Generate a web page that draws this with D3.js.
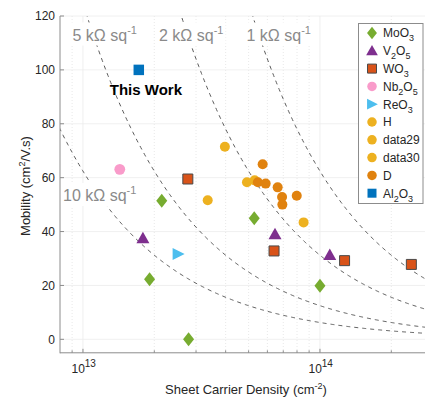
<!DOCTYPE html>
<html>
<head>
<meta charset="utf-8">
<script src="https://cdn.jsdelivr.net/npm/d3@7"></script>
<style>
  html, body { margin: 0; padding: 0; background: #fff; }
  svg { display: block; font-family: "Liberation Sans", Arial, Helvetica, sans-serif; }
</style>
</head>
<body>
<svg id="chart" width="425" height="401"></svg>
<script>
// Sheet carrier density (cm^-2) and mobility (cm^2/V.s) per material
const moO3N   = [2.15e13, 5.28e13, 1.91e13, 2.79e13, 1.0e14];
const moO3Mu  = [51.4, 44.9, 22.3, 0, 19.9];
const v2o5N   = [1.79e13, 6.46e13, 1.10e14];
const v2o5Mu  = [37.5, 39.0, 31.3];
const wo3N    = [2.77e13, 6.40e13, 1.27e14, 2.43e14];
const wo3Mu   = [59.5, 32.8, 29.2, 27.8];
const nb2o5N  = [1.43e13];
const nb2o5Mu = [63.1];
const reo3N   = [2.52e13];
const reo3Mu  = [31.7];
const hN      = [3.97e13, 3.36e13];
const hMu     = [71.5, 51.6];
const d29N    = [4.92e13];
const d29Mu   = [58.3];
const d30N    = [5.30e13, 8.53e13];
const d30Mu   = [59.0, 43.4];
const dN      = [5.73e13, 5.47e13, 5.90e13, 6.63e13, 6.92e13, 6.94e13, 7.98e13];
const dMu     = [65.0, 58.3, 57.8, 56.4, 52.8, 50.0, 53.3];
const al2o3N  = [1.72e13];
const al2o3Mu = [100];

// Constant sheet-resistance contours (ohm/sq) and their labels
const sheetRes    = [10000, 5000, 2000, 1000];
const sheetLabels = ["10 kΩ sq", "5 kΩ sq", "2 kΩ sq", "1 kΩ sq"];
const yTicks = [0, 20, 40, 60, 80, 100, 120];
const xMajor = [1e13, 1e14];

const svg = d3.select("#chart");
const L = 60, B = 352.8, T = 16;
const x = d3.scaleLog().domain([8e12, 3e14]).range([L, L + (Math.log10(3e14) - Math.log10(8e12)) * 237]);
const y = d3.scaleLinear().domain([-5, 120]).range([B, T]);
const R = x.range()[1];

// grid
const xMinor = [];
for (let dec = 1e12; dec <= 1e14; dec *= 10) for (let k = 2; k <= 9; k++) {
  const v = k * dec; if (v > 8e12 && v < 3e14) xMinor.push(v);
}
const grid = svg.append("g");
grid.selectAll(".xmin").data(xMinor).join("line")
  .attr("x1", d => x(d)).attr("x2", d => x(d)).attr("y1", T).attr("y2", B)
  .attr("stroke", "#e2e2e2").attr("stroke-width", 0.8).attr("stroke-dasharray", "1,2");
grid.selectAll(".xmaj").data(xMajor).join("line")
  .attr("x1", d => x(d)).attr("x2", d => x(d)).attr("y1", T).attr("y2", B)
  .attr("stroke", "#ececec").attr("stroke-width", 0.8);
grid.selectAll(".ymaj").data(yTicks).join("line")
  .attr("x1", L).attr("x2", R).attr("y1", d => y(d)).attr("y2", d => y(d))
  .attr("stroke", "#ececec").attr("stroke-width", 0.8);

// sheet-resistance curves: mu = 1 / (q n Rs)
const q = 1.602e-19;
const nGrid = d3.range(0, 401).map(i => Math.pow(10, 12.9 + i * (14.48 - 12.9) / 400));
const curveLine = d3.line().x(d => x(d[0])).y(d => y(d[1]));
const clipId = "plotclip";
svg.append("clipPath").attr("id", clipId).append("rect")
  .attr("x", L).attr("y", T).attr("width", R - L).attr("height", B - T);
const curves = svg.append("g").attr("clip-path", `url(#${clipId})`);
sheetRes.forEach(rs => {
  const pts = nGrid.map(n => [n, 1 / (q * n * rs)]).filter(p => p[1] <= 125);
  curves.append("path").attr("d", curveLine(pts))
    .attr("fill", "none").attr("stroke", "#5a5a5a").attr("stroke-width", 1)
    .attr("stroke-dasharray", "4,4");
});

// curve labels on white boxes
const labelPos = [[63, 201], [72.5, 40.5], [159, 40.5], [246.5, 40.5]];
const lab = svg.append("g");
sheetLabels.forEach((t, i) => {
  const g = lab.append("g");
  const txt = g.append("text").attr("x", labelPos[i][0]).attr("y", labelPos[i][1])
    .attr("font-size", 16).attr("fill", "#8a8a8a");
  txt.append("tspan").text(t);
  txt.append("tspan").attr("dy", -7).attr("font-size", 11).text("-1");
  const bb = txt.node().getBBox();
  g.insert("rect", "text").attr("x", bb.x - 2).attr("y", bb.y - 1)
    .attr("width", bb.width + 4).attr("height", bb.height + 3).attr("fill", "#fff");
});

// axes
const ax = svg.append("g").attr("stroke", "#8c8c8c").attr("stroke-width", 1);
ax.append("line").attr("x1", L).attr("x2", L).attr("y1", T).attr("y2", B + 0.5);
ax.append("line").attr("x1", L).attr("x2", R).attr("y1", B).attr("y2", B);
ax.selectAll(".yt").data(yTicks).join("line")
  .attr("x1", L).attr("x2", L + 4).attr("y1", d => y(d)).attr("y2", d => y(d));
ax.selectAll(".xt").data(xMajor.concat(xMinor)).join("line")
  .attr("x1", d => x(d)).attr("x2", d => x(d)).attr("y1", B).attr("y2", d => B - (xMajor.includes(d) ? 4 : 2.5));

svg.append("g").selectAll("text").data(yTicks).join("text")
  .attr("x", L - 5).attr("y", d => y(d) + 4.3).attr("text-anchor", "end")
  .attr("font-size", 12).attr("fill", "#262626").text(d => d);

const xl = svg.append("g").selectAll("text").data(xMajor).join("text")
  .attr("x", d => x(d) - 11.5).attr("y", B + 20.5).attr("font-size", 12).attr("fill", "#262626");
xl.append("tspan").text("10");
xl.append("tspan").attr("dy", -6).attr("font-size", 10).text(d => Math.round(Math.log10(d)));

const xTitle = svg.append("text").attr("x", 246).attr("y", 394)
  .attr("text-anchor", "middle").attr("font-size", 13).attr("fill", "#262626");
xTitle.append("tspan").text("Sheet Carrier Density (cm");
xTitle.append("tspan").attr("dy", -5).attr("font-size", 9).text("-2");
xTitle.append("tspan").attr("dy", 5).text(")");

const yTitle = svg.append("text").attr("transform", "translate(30,186) rotate(-90)")
  .attr("text-anchor", "middle").attr("font-size", 13).attr("fill", "#262626");
yTitle.append("tspan").text("Mobility (cm");
yTitle.append("tspan").attr("dy", -5).attr("font-size", 9).text("2");
yTitle.append("tspan").attr("dy", 5).text("/V.s)");

// marker shapes
const shapes = {
  diamond: (s) => `M0,${-7*s}L${5.5*s},0L0,${7*s}L${-5.5*s},0Z`,
  tri:     (s) => `M0,${-6.5*s}L${6.5*s},${5*s}L${-6.5*s},${5*s}Z`,
  right:   (s) => `M${6.5*s},0L${-5.5*s},${6*s}L${-5.5*s},${-6*s}Z`,
  square:  (s) => `M${-5*s},${-5*s}h${10*s}v${10*s}h${-10*s}Z`,
  circle:  (s) => `M${5*s},0A${5*s},${5*s} 0 1,1 ${-5*s},0A${5*s},${5*s} 0 1,1 ${5*s},0Z`
};

const series = [
  { name: ["MoO", "3"],             n: moO3N,  mu: moO3Mu,  shape: "diamond", fill: "#77ac30" },
  { name: ["V", "2", "O", "5"],     n: v2o5N,  mu: v2o5Mu,  shape: "tri",     fill: "#7e2f8e" },
  { name: ["WO", "3"],              n: wo3N,   mu: wo3Mu,   shape: "square",  fill: "#d95319", stroke: "#4a4a4a" },
  { name: ["Nb", "2", "O", "5"],    n: nb2o5N, mu: nb2o5Mu, shape: "circle",  fill: "#f99bca", scale: 1.08 },
  { name: ["ReO", "3"],             n: reo3N,  mu: reo3Mu,  shape: "right",   fill: "#4dbeee" },
  { name: ["H"],                    n: hN,     mu: hMu,     shape: "circle",  fill: "#edb120" },
  { name: ["data29"],               n: d29N,   mu: d29Mu,   shape: "circle",  fill: "#edb120" },
  { name: ["data30"],               n: d30N,   mu: d30Mu,   shape: "circle",  fill: "#edb120" },
  { name: ["D"],                    n: dN,     mu: dMu,     shape: "circle",  fill: "#e0820f" },
  { name: ["Al", "2", "O", "3"],    n: al2o3N, mu: al2o3Mu, shape: "square",  fill: "#0072bd", scale: 1.05 }
];

const marks = svg.append("g");
series.forEach(s => {
  marks.append("g").selectAll("path").data(s.n.map((n, i) => [n, s.mu[i]])).join("path")
    .attr("transform", d => `translate(${x(d[0])},${y(d[1])})`)
    .attr("d", shapes[s.shape](s.scale || 1))
    .attr("fill", s.fill)
    .attr("stroke", s.stroke || "none").attr("stroke-width", s.stroke ? 1 : 0);
});

svg.append("text").attr("x", x(al2o3N[0]) - 29).attr("y", y(al2o3Mu[0]) + 25)
  .attr("font-size", 15).attr("font-weight", "bold").attr("fill", "#000").text("This Work");

// legend
const lg = svg.append("g");
lg.append("rect").attr("x", 358.5).attr("y", 23.5).attr("width", 64.5).attr("height", 180)
  .attr("fill", "#fff").attr("stroke", "#8c8c8c").attr("stroke-width", 1);
const rowY = i => 33 + i * 17.8;
series.forEach((s, i) => {
  const yy = rowY(i);
  lg.append("path").attr("transform", `translate(372,${yy})`)
    .attr("d", shapes[s.shape](s.shape === "circle" ? 0.95 : 0.9))
    .attr("fill", s.fill).attr("stroke", s.stroke || "none");
  const t = lg.append("text").attr("x", 383).attr("y", yy + 4.3).attr("font-size", 12).attr("fill", "#262626");
  s.name.forEach((part, k) => {
    const isSub = k % 2 === 1;
    const sp = t.append("tspan").text(part);
    if (isSub) sp.attr("dy", 4).attr("font-size", 9);
    else if (k > 0) sp.attr("dy", -4);
  });
});
</script>
</body>
</html>
